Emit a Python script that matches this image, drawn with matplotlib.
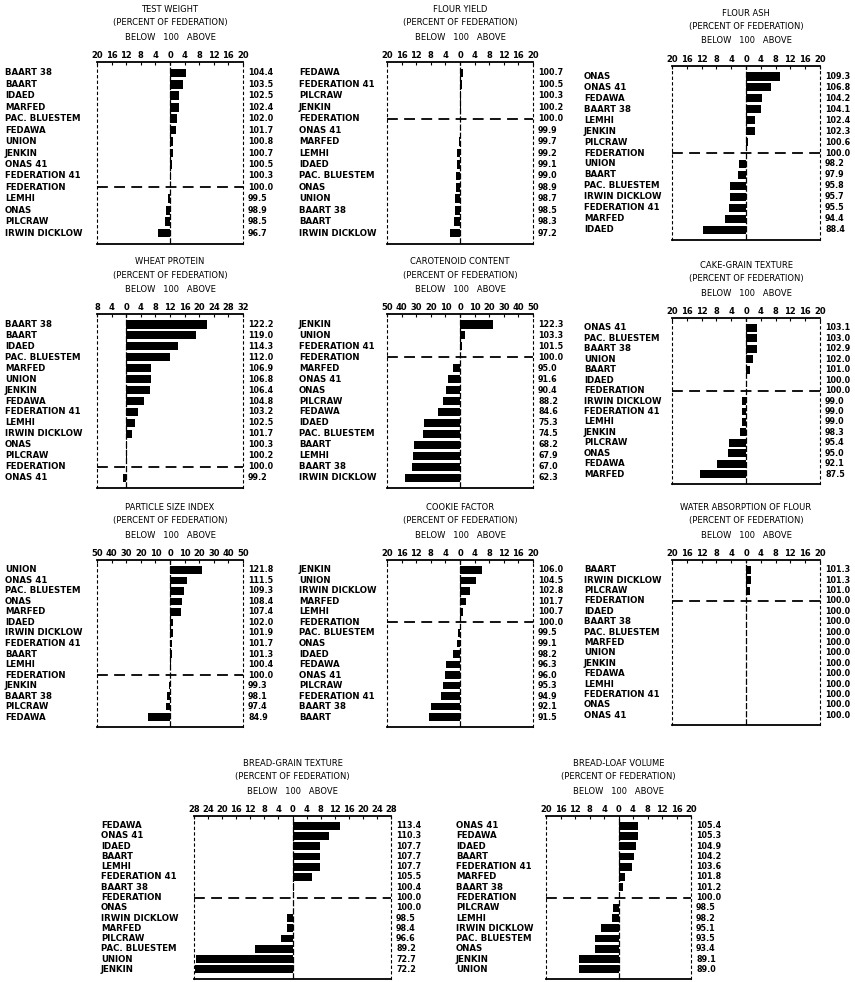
import matplotlib
matplotlib.use('Agg')
import matplotlib.pyplot as plt
from matplotlib.transforms import blended_transform_factory

W, H = 855, 982

# ---- data: varieties in printed order, values are percent of Federation ----
tw_names = ['BAART 38', 'BAART', 'IDAED', 'MARFED', 'PAC. BLUESTEM', 'FEDAWA', 'UNION',
            'JENKIN', 'ONAS 41', 'FEDERATION 41', 'FEDERATION', 'LEMHI', 'ONAS',
            'PILCRAW', 'IRWIN DICKLOW']
tw_vals = [104.4, 103.5, 102.5, 102.4, 102.0, 101.7, 100.8, 100.7, 100.5, 100.3,
           100.0, 99.5, 98.9, 98.5, 96.7]

fy_names = ['FEDAWA', 'FEDERATION 41', 'PILCRAW', 'JENKIN', 'FEDERATION', 'ONAS 41',
            'MARFED', 'LEMHI', 'IDAED', 'PAC. BLUESTEM', 'ONAS', 'UNION', 'BAART 38',
            'BAART', 'IRWIN DICKLOW']
fy_vals = [100.7, 100.5, 100.3, 100.2, 100.0, 99.9, 99.7, 99.2, 99.1, 99.0, 98.9,
           98.7, 98.5, 98.3, 97.2]

fa_names = ['ONAS', 'ONAS 41', 'FEDAWA', 'BAART 38', 'LEMHI', 'JENKIN', 'PILCRAW',
            'FEDERATION', 'UNION', 'BAART', 'PAC. BLUESTEM', 'IRWIN DICKLOW',
            'FEDERATION 41', 'MARFED', 'IDAED']
fa_vals = [109.3, 106.8, 104.2, 104.1, 102.4, 102.3, 100.6, 100.0, 98.2, 97.9,
           95.8, 95.7, 95.5, 94.4, 88.4]

wp_names = ['BAART 38', 'BAART', 'IDAED', 'PAC. BLUESTEM', 'MARFED', 'UNION', 'JENKIN',
            'FEDAWA', 'FEDERATION 41', 'LEMHI', 'IRWIN DICKLOW', 'ONAS', 'PILCRAW',
            'FEDERATION', 'ONAS 41']
wp_vals = [122.2, 119.0, 114.3, 112.0, 106.9, 106.8, 106.4, 104.8, 103.2, 102.5,
           101.7, 100.3, 100.2, 100.0, 99.2]

cc_names = ['JENKIN', 'UNION', 'FEDERATION 41', 'FEDERATION', 'MARFED', 'ONAS 41',
            'ONAS', 'PILCRAW', 'FEDAWA', 'IDAED', 'PAC. BLUESTEM', 'BAART', 'LEMHI',
            'BAART 38', 'IRWIN DICKLOW']
cc_vals = [122.3, 103.3, 101.5, 100.0, 95.0, 91.6, 90.4, 88.2, 84.6, 75.3, 74.5,
           68.2, 67.9, 67.0, 62.3]

cg_names = ['ONAS 41', 'PAC. BLUESTEM', 'BAART 38', 'UNION', 'BAART', 'IDAED',
            'FEDERATION', 'IRWIN DICKLOW', 'FEDERATION 41', 'LEMHI', 'JENKIN',
            'PILCRAW', 'ONAS', 'FEDAWA', 'MARFED']
cg_vals = [103.1, 103.0, 102.9, 102.0, 101.0, 100.0, 100.0, 99.0, 99.0, 99.0, 98.3,
           95.4, 95.0, 92.1, 87.5]

ps_names = ['UNION', 'ONAS 41', 'PAC. BLUESTEM', 'ONAS', 'MARFED', 'IDAED',
            'IRWIN DICKLOW', 'FEDERATION 41', 'BAART', 'LEMHI', 'FEDERATION', 'JENKIN',
            'BAART 38', 'PILCRAW', 'FEDAWA']
ps_vals = [121.8, 111.5, 109.3, 108.4, 107.4, 102.0, 101.9, 101.7, 101.3, 100.4,
           100.0, 99.3, 98.1, 97.4, 84.9]

cf_names = ['JENKIN', 'UNION', 'IRWIN DICKLOW', 'MARFED', 'LEMHI', 'FEDERATION',
            'PAC. BLUESTEM', 'ONAS', 'IDAED', 'FEDAWA', 'ONAS 41', 'PILCRAW',
            'FEDERATION 41', 'BAART 38', 'BAART']
cf_vals = [106.0, 104.5, 102.8, 101.7, 100.7, 100.0, 99.5, 99.1, 98.2, 96.3, 96.0,
           95.3, 94.9, 92.1, 91.5]

wa_names = ['BAART', 'IRWIN DICKLOW', 'PILCRAW', 'FEDERATION', 'IDAED', 'BAART 38',
            'PAC. BLUESTEM', 'MARFED', 'UNION', 'JENKIN', 'FEDAWA', 'LEMHI',
            'FEDERATION 41', 'ONAS', 'ONAS 41']
wa_vals = [101.3, 101.3, 101.0, 100.0, 100.0, 100.0, 100.0, 100.0, 100.0, 100.0,
           100.0, 100.0, 100.0, 100.0, 100.0]

bg_names = ['FEDAWA', 'ONAS 41', 'IDAED', 'BAART', 'LEMHI', 'FEDERATION 41', 'BAART 38',
            'FEDERATION', 'ONAS', 'IRWIN DICKLOW', 'MARFED', 'PILCRAW',
            'PAC. BLUESTEM', 'UNION', 'JENKIN']
bg_vals = [113.4, 110.3, 107.7, 107.7, 107.7, 105.5, 100.4, 100.0, 100.0, 98.5, 98.4,
           96.6, 89.2, 72.7, 72.2]

bl_names = ['ONAS 41', 'FEDAWA', 'IDAED', 'BAART', 'FEDERATION 41', 'MARFED',
            'BAART 38', 'FEDERATION', 'PILCRAW', 'LEMHI', 'IRWIN DICKLOW',
            'PAC. BLUESTEM', 'ONAS', 'JENKIN', 'UNION']
bl_vals = [105.4, 105.3, 104.9, 104.2, 103.6, 101.8, 101.2, 100.0, 98.5, 98.2, 95.1,
           93.5, 93.4, 89.1, 89.0]

fig = plt.figure(figsize=(W / 100, H / 100), dpi=100)
fig.patch.set_facecolor('white')


def panel(names, vals, title, sub1, xmin, xmax, step, frame, label_x):
    x0, x1, y0, y1 = frame
    ax = fig.add_axes([x0 / W, 1 - y1 / H, (x1 - x0) / W, (y1 - y0) / H])
    n = len(names)
    ys = list(range(n))
    diffs = [v - 100 for v in vals]
    ax.barh(ys, diffs, height=0.75, color='black', zorder=3)
    ax.set_xlim(xmin, xmax)
    ax.set_ylim(n - 0.05, -0.95)
    fed = names.index('FEDERATION')
    ax.axhline(fed, color='black', lw=1.3, ls=(0, (6, 3.5)), zorder=2)
    ax.axvline(0, color='black', lw=0.9, ls=(0, (5, 1.5)), zorder=2)

    ticks = list(range(xmin, xmax + 1, step))
    ax.set_xticks(ticks)
    ax.set_xticklabels([str(abs(t)) for t in ticks], fontweight='bold')
    ax.xaxis.tick_top()
    ax.tick_params(axis='x', direction='in', length=2.5, width=0.8, pad=1.5,
                   labelsize=6, top=True, bottom=False)
    ax.set_yticks([])
    for side in ('top', 'bottom'):
        ax.spines[side].set_linewidth(1.3)
    for side in ('left', 'right'):
        ax.spines[side].set_linewidth(0.8)
        ax.spines[side].set_linestyle((0, (2, 3)))

    tr = blended_transform_factory(fig.transFigure, ax.transData)
    for y, name, v in zip(ys, names, vals):
        ax.text(label_x / W, y, name, transform=tr, ha='left', va='center',
                fontsize=6.2, fontweight='bold', clip_on=False)
        ax.text((x1 + 5) / W, y, f'{v:.1f}', transform=tr, ha='left', va='center',
                fontsize=5.8, fontweight='bold', clip_on=False)

    cx = (x0 + x1) / 2 / W
    fig.text(cx, 1 - (y0 - 53) / H, title, ha='center', va='center', fontsize=6)
    fig.text(cx, 1 - (y0 - 39) / H, sub1, ha='center', va='center', fontsize=6)
    fig.text(cx, 1 - (y0 - 25) / H, 'BELOW   100   ABOVE', ha='center', va='center',
             fontsize=6)
    return ax


pct = '(PERCENT OF FEDERATION)'
panel(tw_names, tw_vals, 'TEST WEIGHT', pct, -20, 20, 4, (97, 243, 62, 244), 5)
panel(fy_names, fy_vals, 'FLOUR YIELD', pct, -20, 20, 4, (387, 533, 62, 244), 299)
panel(fa_names, fa_vals, 'FLOUR ASH', pct, -20, 20, 4, (672, 820, 66, 240), 584)

panel(wp_names, wp_vals, 'WHEAT PROTEIN', pct, -8, 32, 4, (97, 243, 314, 488), 5)
panel(cc_names, cc_vals, 'CAROTENOID CONTENT', pct, -50, 50, 10, (387, 533, 314, 488), 299)
panel(cg_names, cg_vals, 'CAKE-GRAIN TEXTURE', pct, -20, 20, 4, (672, 820, 318, 484), 584)

panel(ps_names, ps_vals, 'PARTICLE SIZE INDEX', pct, -50, 50, 10, (97, 243, 560, 727), 5)
panel(cf_names, cf_vals, 'COOKIE FACTOR', pct, -20, 20, 4, (387, 533, 560, 727), 299)
panel(wa_names, wa_vals, 'WATER ABSORPTION OF FLOUR', pct, -20, 20, 4,
      (672, 820, 560, 725), 584)

panel(bg_names, bg_vals, 'BREAD-GRAIN TEXTURE', pct, -28, 28, 4, (194, 391, 816, 979), 101)
panel(bl_names, bl_vals, 'BREAD-LOAF VOLUME', pct, -20, 20, 4, (546, 691, 816, 979), 456)

fig.savefig('out.png', dpi=100, facecolor='white')
